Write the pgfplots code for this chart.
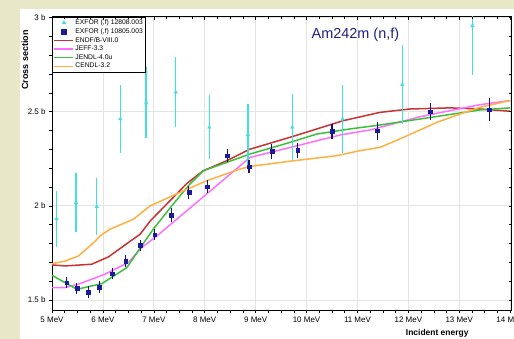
\documentclass[border=0pt]{standalone}
\usepackage{fontspec}
\setmainfont{Liberation Sans}
\usepackage{pgfplots}
\pgfplotsset{compat=1.18}
\definecolor{beige}{HTML}{E8E8C8}
\definecolor{cyanx}{HTML}{40E0E0}
\definecolor{navym}{HTML}{1A1A9A}
\definecolor{navye}{HTML}{10107A}
\definecolor{redc}{HTML}{C83232}
\definecolor{pinkc}{HTML}{FF70FF}
\definecolor{greenc}{HTML}{3CC03C}
\definecolor{orangec}{HTML}{FFB040}
\definecolor{titlec}{HTML}{20207F}
\definecolor{gridc}{HTML}{E4E4E4}
\pgfplotsset{
  commonaxis/.style={
    at={(0,0)}, anchor=south west,
    scale only axis, width=459.7bp, height=293.3bp,
    xmin=5, xmax=14.03, ymin=1.447, ymax=3.004,
    xtick={5,6,7,8,9,10,11,12,13,14},
    ytick={1.5,2,2.5,3},
    minor x tick num=3, minor y tick num=4,
    major tick length=3bp, minor tick length=2.5bp,
    tick style={black, line width=0.6bp},
  }
}
\begin{document}
\begin{tikzpicture}
\fill[beige] (-52bp,-29bp) rectangle (462bp,310bp);
\fill[white] (-32bp,-29bp) rectangle (462bp,301bp);
\begin{axis}[
  commonaxis,
  xticklabels={5 MeV,6 MeV,7 MeV,8 MeV,9 MeV,10 MeV,11 MeV,12 MeV,13 MeV,14 MeV},
  yticklabels={1.5 b,2 b,2.5 b,3 b},
  tick align=outside, xtick pos=bottom, ytick pos=left,
  tick label style={font=\fontsize{8}{9}\selectfont},
  grid=major,
  major grid style={gridc, line width=0.8bp},
  axis line style={black, line width=0.8bp},
  xlabel={\bfseries Incident energy},
  ylabel={\bfseries Cross section},
  xlabel style={font=\fontsize{8.5}{10}\selectfont, at={(axis description cs:0.838,-0.0784)}, anchor=center},
  ylabel style={font=\fontsize{9}{10}\selectfont, at={(axis description cs:-0.0587,0.852)}, anchor=center, rotate=0},
  legend style={at={(0,1)}, anchor=north west, draw=black,
    font=\fontsize{6.8}{8}\selectfont, inner sep=1.5bp, row sep=0bp,
    nodes={inner sep=1.2bp}},
  legend cell align=left,
  legend image code/.code={\draw[mark repeat=2,mark phase=2,#1] plot coordinates {(0bp,0bp) (9.5bp,0bp) (19bp,0bp)};},
]
\addlegendimage{only marks, mark=triangle*, mark size=2.2bp, cyanx}
\addlegendentry{EXFOR (,f) 12808.003}
\addlegendimage{only marks, mark=square*, mark size=2.6bp, navym}
\addlegendentry{EXFOR (,f) 10805.003}

% ENDF/B-VIII.0
\addplot[redc, line width=1.5bp] coordinates {
(5.0,1.686) (5.26,1.681) (5.78,1.69) (6.11,1.729) (6.5,1.805) (6.73,1.849)
(6.93,1.92) (7.38,2.044) (7.65,2.119) (7.97,2.186) (8.43,2.239) (8.88,2.30)
(9.74,2.369) (10.72,2.452) (11.44,2.496) (12.03,2.514) (12.82,2.52) (13.41,2.514) (14.0,2.502)};
\addlegendentry{ENDF/B-VIII.0}
% JEFF-3.3
\addplot[pinkc, line width=1.5bp] coordinates {
(5.0,1.566) (5.26,1.566) (5.52,1.584) (6.04,1.637) (6.5,1.699) (6.76,1.778)
(7.06,1.84) (8.89,2.257) (9.68,2.31) (10.66,2.376) (11.25,2.403) (12.23,2.473)
(13.41,2.537) (14.0,2.559)};
\addlegendentry{JEFF-3.3}
% JENDL-4.0u
\addplot[greenc, line width=1.5bp] coordinates {
(5.0,1.631) (5.49,1.557) (5.98,1.587) (6.47,1.672) (6.76,1.787) (7.0,1.88)
(7.38,2.009) (7.71,2.116) (7.97,2.186) (8.89,2.275) (9.68,2.337) (10.2,2.381)
(10.85,2.408) (11.44,2.429) (12.23,2.461) (13.41,2.509) (14.0,2.52)};
\addlegendentry{JENDL-4.0u}
% CENDL-3.2
\addplot[orangec, line width=1.5bp] coordinates {
(5.0,1.693) (5.26,1.707) (5.52,1.734) (5.84,1.810) (5.94,1.840) (6.14,1.876)
(6.6,1.929) (6.93,2.0) (7.51,2.071) (8.04,2.133) (8.69,2.195) (8.89,2.209)
(9.74,2.239) (10.59,2.266) (11.05,2.293) (11.44,2.31) (11.9,2.363) (12.56,2.443)
(13.02,2.488) (13.41,2.523) (14.0,2.559)};
\addlegendentry{CENDL-3.2}

% EXFOR 12808.003
\addplot[only marks, mark=triangle*, mark size=2bp, cyanx, forget plot,
  error bars/.cd, y dir=both, y explicit, error mark=none,
  error bar style={line width=1.4bp, cyanx}]
table[x=x, y=y, y error=e] {
x y e
5.09 1.931 0.15
5.47 2.017 0.155
5.88 1.996 0.15
6.34 2.461 0.18
6.85 2.549 0.19
7.43 2.603 0.185
8.09 2.417 0.17
8.85 2.378 0.16
9.72 2.417 0.175
10.71 2.461 0.18
11.88 2.644 0.21
13.26 2.957 0.26
};
% EXFOR 10805.003
\addplot[only marks, mark=square*, mark size=1.8bp, navym, forget plot,
  error bars/.cd, y dir=both, y explicit, error mark=none,
  error bar style={line width=1.1bp, navye}]
table[x=x, y=y, y error=e] {
x y e
5.29 1.592 0.03
5.49 1.562 0.03
5.71 1.543 0.03
5.93 1.569 0.03
6.18 1.640 0.03
6.45 1.707 0.03
6.73 1.791 0.03
7.02 1.846 0.03
7.34 1.951 0.035
7.69 2.071 0.035
8.05 2.101 0.035
8.44 2.266 0.035
8.87 2.207 0.035
9.32 2.289 0.04
9.83 2.296 0.04
10.50 2.395 0.04
11.39 2.399 0.047
12.43 2.500 0.045
13.59 2.511 0.06
};
\node[font=\fontsize{14.5}{16}\selectfont, text=titlec] at (axis description cs:0.660,0.9376) {Am242m (n,f)};
\end{axis}
\begin{axis}[
  commonaxis,
  xticklabels={}, yticklabels={},
  tick align=inside, xtick pos=top, ytick pos=right,
  axis line style={draw=none},
]
\end{axis}
\pgfresetboundingbox
\path[use as bounding box] (-52bp,-29bp) rectangle (462bp,310bp);
\end{tikzpicture}
\end{document}
